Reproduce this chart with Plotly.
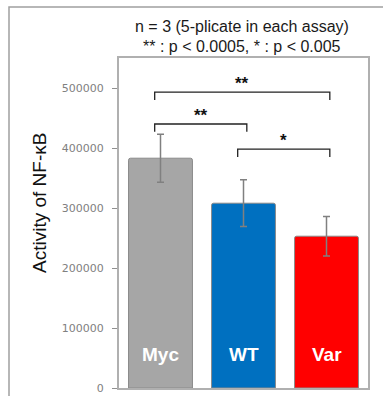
import plotly.graph_objects as go

categories = ["Myc", "WT", "Var"]
values = [383000, 308000, 253000]
errors = [40000, 39000, 33000]
bar_colors = ["#a6a6a6", "#0070c0", "#ff0000"]
tick_vals = [0, 100000, 200000, 300000, 400000, 500000]
tick_text = ["0", "100000", "200000", "300000", "400000", "500000"]
# significance comparisons: (left index, right index, bracket level, label)
comparisons = [(0, 2, 493000, "**"), (0, 1, 440000, "**"), (1, 2, 398000, "*")]
title_lines = ["n = 3 (5-plicate in each assay)", "** : p < 0.0005, * : p < 0.005"]
y_title = "Activity of NF-κB"

W, H = 383, 397
ML, MR, MT, MB = 119, 15, 58, 9
PW, PH = W - ML - MR, H - MT - MB
BOTTOM = H - MB

def px_x(p):
    return (p - ML) / PW

def px_y(p):
    return (BOTTOM - p) / PH

xs = list(range(len(categories)))

fig = go.Figure()
fig.add_trace(go.Bar(
    x=xs, y=values, width=0.77,
    marker=dict(color=bar_colors, line=dict(color="#8a8a8a", width=1), cornerradius=2),
    error_y=dict(type="data", array=errors, visible=True, color="#808080", thickness=1.5, width=3.5),
    showlegend=False, hoverinfo="skip",
))

shapes = []
annotations = []
tick_len = 13000
for (i, j, lvl, lab) in comparisons:
    x0, x1 = i - 0.07, j + 0.04
    shapes.append(dict(type="path", xref="x", yref="y",
                       path=f"M {x0} {lvl - tick_len} L {x0} {lvl} L {x1} {lvl} L {x1} {lvl - tick_len}",
                       line=dict(color="#222222", width=1.3)))
    annotations.append(dict(x=(x0 + x1) / 2, y=lvl, xref="x", yref="y", text=f"<b>{lab}</b>",
                            showarrow=False, yanchor="bottom", yshift=-3,
                            font=dict(family="Liberation Sans, Arial", size=17, color="#111111")))

for k, c in enumerate(categories):
    annotations.append(dict(x=k, y=56000, xref="x", yref="y", text=f"<b>{c}</b>", showarrow=False,
                            yanchor="middle",
                            font=dict(family="Liberation Sans, Arial", size=19, color="white")))

annotations.append(dict(x=px_x(242), y=px_y(27), xref="paper", yref="paper", text=title_lines[0],
                        showarrow=False, xanchor="center", yanchor="middle",
                        font=dict(family="Liberation Sans, Arial", size=16, color="#1a1a1a")))
annotations.append(dict(x=px_x(242), y=px_y(46), xref="paper", yref="paper", text=title_lines[1],
                        showarrow=False, xanchor="center", yanchor="middle",
                        font=dict(family="Liberation Sans, Arial", size=16, color="#1a1a1a")))
annotations.append(dict(x=px_x(39), y=px_y(203), xref="paper", yref="paper", text=y_title,
                        showarrow=False, textangle=-90, xanchor="center", yanchor="middle",
                        font=dict(family="Liberation Sans, Arial", size=19, color="#111111")))

# outer frame (left and top)
shapes.append(dict(type="path", xref="paper", yref="paper",
                   path=f"M {px_x(9)} {px_y(396)} L {px_x(9)} {px_y(7)} L {px_x(400)} {px_y(7)}",
                   line=dict(color="#a0a0a0", width=1.5)))

fig.update_layout(
    width=W, height=H,
    margin=dict(l=ML, r=MR, t=MT, b=MB),
    paper_bgcolor="white", plot_bgcolor="white",
    shapes=shapes, annotations=annotations,
    xaxis=dict(range=[-0.5, 2.5], showticklabels=False, ticks="", showgrid=False, zeroline=False,
               showline=True, linecolor="#b0b0b0", linewidth=2, mirror=True, fixedrange=True,
               automargin=False),
    yaxis=dict(range=[0, 550000], tickvals=tick_vals, ticktext=tick_text, ticks="outside", ticklen=5,
               tickcolor="#909090", tickwidth=1, showgrid=False, zeroline=False,
               showline=True, linecolor="#b0b0b0", linewidth=2, mirror=True, ticklabelstandoff=6,
               automargin=False,
               tickfont=dict(family="DejaVu Sans", size=11, color="#808080")),
)

fig.write_html("out.html", config={"displayModeBar": False},
               post_script="document.body.style.margin='0';document.body.style.overflow='hidden';")
